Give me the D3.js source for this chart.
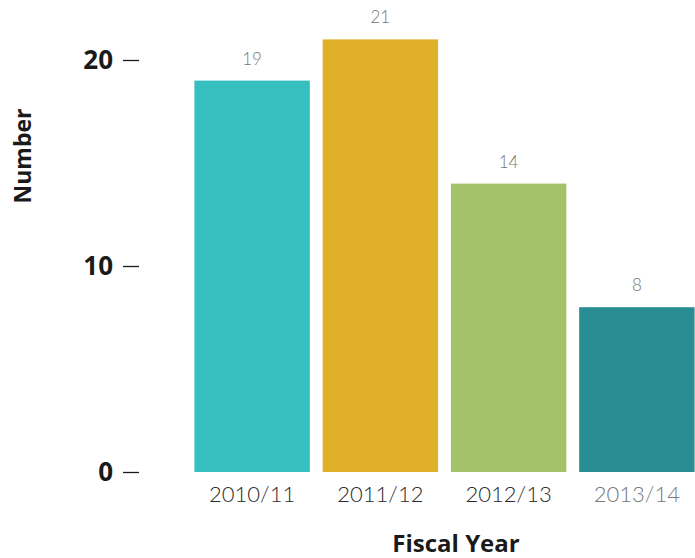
<!DOCTYPE html>
<html>
<head>
<meta charset="utf-8">
<script src="https://cdn.jsdelivr.net/npm/d3@7"></script>
<style>
  html, body { margin: 0; padding: 0; background: #fff; }
  svg { display: block; font-family: Lato, "Open Sans", sans-serif; }
</style>
</head>
<body>
<svg id="chart" width="695" height="558"></svg>
<script>
// Fiscal years and counts
const years = ["2010/11", "2011/12", "2012/13", "2013/14"];
const counts = [19, 21, 14, 8];
const barColors = ["#35c0bf", "#dfaf29", "#a4c26a", "#288e93"];
const yTicks = [0, 10, 20];
const labelColors = ["#2a2a2a", "#2a2a2a", "#2a2a2a", "#777"];

const boldFont = "'Open Sans', Lato, sans-serif";

const svg = d3.select("#chart");

const x = d3.scaleBand()
  .domain(years)
  .range([188, 701])
  .paddingInner(0.1)
  .paddingOuter(0.05);

const y = d3.scaleLinear()
  .domain([0, 20])
  .range([472, 60]);

// Bars
svg.append("g").selectAll("rect")
  .data(years)
  .join("rect")
  .attr("x", d => x(d))
  .attr("width", x.bandwidth())
  .attr("y", (d, i) => y(counts[i]))
  .attr("height", (d, i) => y(0) - y(counts[i]))
  .attr("fill", (d, i) => barColors[i]);

// Value labels above bars
svg.append("g").selectAll("text")
  .data(years)
  .join("text")
  .attr("x", d => x(d) + x.bandwidth() / 2)
  .attr("y", (d, i) => y(counts[i]) - 16)
  .attr("text-anchor", "middle")
  .attr("font-size", 17)
  .attr("font-weight", 300)
  .attr("fill", "#777")
  .text((d, i) => counts[i]);

// Y axis
const yAxis = d3.axisLeft(y)
  .tickValues(yTicks)
  .tickSize(16)
  .tickPadding(10);

const gy = svg.append("g")
  .attr("transform", "translate(139,0)")
  .call(yAxis);
gy.select(".domain").remove();
gy.selectAll(".tick line").attr("stroke", "#1a1a1a").attr("stroke-width", 1.3);
gy.selectAll(".tick text")
  .attr("font-family", boldFont)
  .attr("font-size", 26)
  .attr("font-weight", 700)
  .attr("fill", "#1a1a1a");

// X axis
const xAxis = d3.axisBottom(x).tickSize(0).tickPadding(14);
const gx = svg.append("g")
  .attr("transform", "translate(0,472)")
  .call(xAxis);
gx.select(".domain").remove();
gx.selectAll(".tick text")
  .attr("font-family", "Lato, 'Open Sans', sans-serif")
  .attr("font-size", 22)
  .attr("font-weight", 300)
  .attr("fill", (d, i) => labelColors[i]);

// Axis titles
svg.append("text")
  .attr("transform", "translate(31,156) rotate(-90)")
  .attr("text-anchor", "middle")
  .attr("font-family", boldFont)
  .attr("font-size", 23)
  .attr("font-weight", 700)
  .attr("fill", "#1a1a1a")
  .text("Number");

svg.append("text")
  .attr("x", 456)
  .attr("y", 552)
  .attr("text-anchor", "middle")
  .attr("font-family", boldFont)
  .attr("font-size", 24)
  .attr("font-weight", 700)
  .attr("fill", "#1a1a1a")
  .text("Fiscal Year");
</script>
</body>
</html>
